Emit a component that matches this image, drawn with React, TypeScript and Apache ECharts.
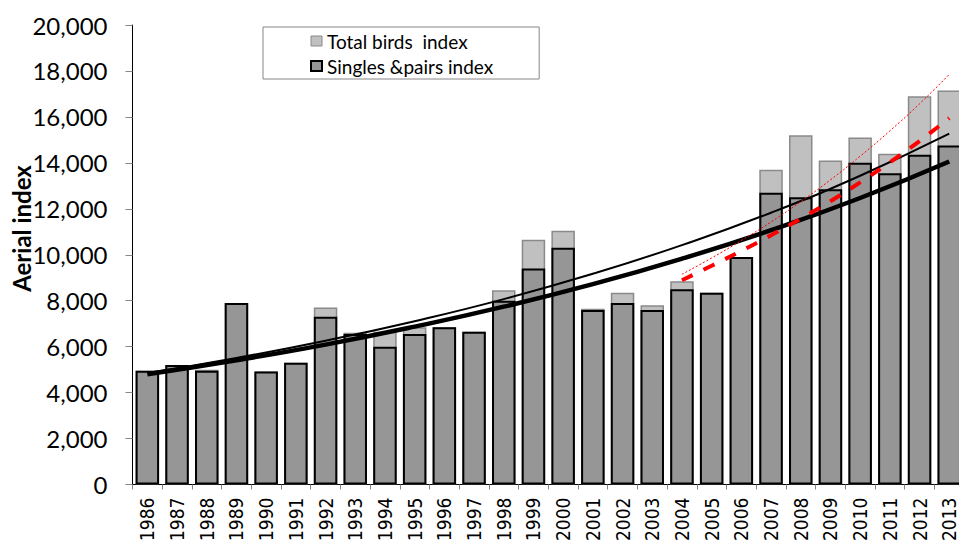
import React, { useEffect, useRef } from 'react';
import * as echarts from 'echarts';

const years = ['1986','1987','1988','1989','1990','1991','1992','1993','1994','1995','1996','1997','1998','1999','2000','2001','2002','2003','2004','2005','2006','2007','2008','2009','2010','2011','2012','2013'];
const singlesPairs = [4950,5200,4950,7900,4920,5300,7300,6550,6000,6550,6850,6650,8000,9400,10300,7600,7900,7600,8500,8350,9900,12700,12500,12850,14000,13550,14350,14750];
const totalBirds = [4950,5200,5000,7900,4920,5300,7700,6600,6650,6850,6850,6650,8450,10650,11050,7650,8350,7800,8850,8350,9900,13700,15200,14100,15100,14400,16900,17150];

// trend lines
const longTrendYears = [1986,1989,1992,1995,1998,2001,2004,2007,2010,2013];
const longTrendSingles = [4800,5410,6090,6870,7740,8720,9830,11070,12470,14060];
const longTrendTotal = [4850,5510,6260,7110,8070,9170,10420,11830,13440,15270];
const shortTrendYears = [2004,2005,2006,2007,2008,2009,2010,2011,2012,2013];
const shortTrendSingles = [8890,9520,10170,10850,11570,12330,13150,14020,14950,15950];
const shortTrendTotal = [9150,9860,10620,11430,12310,13260,14290,15390,16570,17850];

const yTicks = { min: 0, max: 20000, interval: 2000 };

const pairs = (xs: number[], ys: number[]) => xs.map((x, i) => [x, ys[i]]);

export default function App() {
  const ref = useRef<HTMLDivElement>(null);
  useEffect(() => {
    const chart = echarts.init(ref.current!, null, { renderer: 'svg' });
    const darkStyle = { color: '#969696', borderColor: '#000000', borderWidth: 2 };
    const lightStyle = { color: '#c0c0c0', borderColor: '#8a8a8a', borderWidth: 1.5 };
    chart.setOption({
      animation: false,
      backgroundColor: '#ffffff',
      grid: { left: 132.5, right: 15.9, top: 25, bottom: 55, containLabel: false },
      legend: {
        left: 263,
        top: 27,
        orient: 'vertical',
        padding: [4, 46, 3, 47],
        itemGap: 5,
        itemWidth: 11,
        itemHeight: 10,
        borderColor: '#868686',
        borderWidth: 1,
        backgroundColor: '#ffffff',
        textStyle: { fontFamily: 'Lato', fontSize: 19, color: '#000', lineHeight: 20 },
        data: [
          { name: 'Total birds  index', icon: 'rect', itemStyle: { color: '#c0c0c0', borderColor: '#8a8a8a', borderWidth: 1 } },
          { name: 'Singles &pairs index', icon: 'rect', itemStyle: { color: '#969696', borderColor: '#000', borderWidth: 2 } },
        ],
      },
      xAxis: [
        {
          type: 'category',
          data: years,
          boundaryGap: true,
          axisLine: { lineStyle: { color: '#000', width: 1 } },
          axisTick: { show: true, length: 5, lineStyle: { color: '#868686' } },
          axisLabel: {
            rotate: 90,
            interval: 0,
            margin: 13,
            fontFamily: "'DejaVu Sans Condensed', 'DejaVu Sans'",
            fontSize: 19,
            color: '#000',
          },
        },
        {
          type: 'value',
          min: 1985.5,
          max: 2013.5,
          show: false,
        },
      ],
      yAxis: {
        type: 'value',
        min: yTicks.min,
        max: yTicks.max,
        interval: yTicks.interval,
        splitLine: { show: false },
        axisLine: { show: true, lineStyle: { color: '#000', width: 1 } },
        axisTick: { show: true, length: 7, lineStyle: { color: '#868686' } },
        axisLabel: {
          margin: 25,
          fontFamily: 'Lato',
          fontSize: 24,
          color: '#000',
          formatter: (v: number) => v.toLocaleString('en-US'),
        },
      },
      graphic: [
        {
          type: 'text',
          x: 21,
          y: 228.5,
          rotation: Math.PI / 2,
          style: {
            text: 'Aerial index',
            fontFamily: 'Lato',
            fontWeight: 'bold',
            fontSize: 24,
            fill: '#000',
            align: 'center',
            verticalAlign: 'middle',
          },
        },
      ],
      series: [
        {
          name: 'Total birds  index',
          type: 'bar',
          data: totalBirds,
          barWidth: '79%',
          itemStyle: lightStyle,
          z: 2,
        },
        {
          name: 'Singles &pairs index',
          type: 'bar',
          data: singlesPairs,
          barWidth: '79%',
          barGap: '-100%',
          itemStyle: darkStyle,
          z: 3,
        },
        {
          type: 'line',
          xAxisIndex: 1,
          data: pairs(longTrendYears, longTrendTotal),
          smooth: true,
          symbol: 'none',
          lineStyle: { color: '#000', width: 2 },
          z: 5,
        },
        {
          type: 'line',
          xAxisIndex: 1,
          data: pairs(longTrendYears, longTrendSingles),
          smooth: true,
          symbol: 'none',
          lineStyle: { color: '#000', width: 4.5 },
          z: 5,
        },
        {
          type: 'line',
          xAxisIndex: 1,
          data: pairs(shortTrendYears, shortTrendSingles),
          smooth: true,
          symbol: 'none',
          lineStyle: { color: '#ff0000', width: 4, type: [12, 12] },
          z: 6,
        },
        {
          type: 'line',
          xAxisIndex: 1,
          data: pairs(shortTrendYears, shortTrendTotal),
          smooth: true,
          symbol: 'none',
          lineStyle: { color: '#ff0000', width: 1, type: [2, 2] },
          z: 6,
        },
      ],
    });
    return () => chart.dispose();
  }, []);
  return (
    <div style={{ position: 'fixed', left: 0, top: 0, width: 959, height: 544, overflow: 'hidden', background: '#fff' }}>
      <div ref={ref} style={{ width: 980, height: 544 }} />
    </div>
  );
}
